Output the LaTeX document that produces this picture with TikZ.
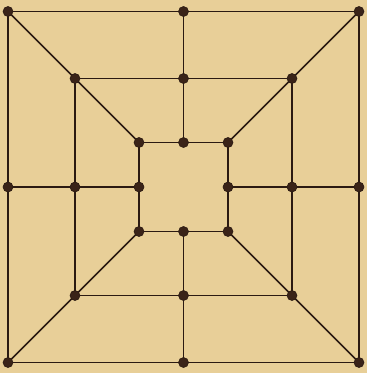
\documentclass[tikz,border=0pt]{standalone}
\usepackage{tikz}
\usetikzlibrary{calc}
\definecolor{boardbg}{HTML}{E8CF98}
\definecolor{boardline}{HTML}{2B1A12}
\definecolor{pegbrown}{HTML}{3A2318}
\begin{document}
\begin{tikzpicture}[
 x=1pt, y=-1pt,
 line/.style={draw=boardline,line width=1.7pt,line cap=round},
 peg/.style={circle,fill=pegbrown,draw=boardline,line width=0.6pt,inner sep=0pt,minimum size=10pt}
]
\fill[boardbg] (0,0) rectangle (367,373);
\useasboundingbox (0,0) rectangle (367,373);
\coordinate (c) at (183.5,187);
% the three squares: corners and midpoints
\foreach \sq/\h in {outer/175.5,middle/108.5,inner/44.5} {
 \coordinate (\sq-nw) at ($(c)+(-\h,-\h)$);
 \coordinate (\sq-n)  at ($(c)+(0,-\h)$);
 \coordinate (\sq-ne) at ($(c)+(\h,-\h)$);
 \coordinate (\sq-e)  at ($(c)+(\h,0)$);
 \coordinate (\sq-se) at ($(c)+(\h,\h)$);
 \coordinate (\sq-s)  at ($(c)+(0,\h)$);
 \coordinate (\sq-sw) at ($(c)+(-\h,\h)$);
 \coordinate (\sq-w)  at ($(c)+(-\h,0)$);
 \draw[line] (\sq-nw) -- (\sq-ne) -- (\sq-se) -- (\sq-sw) -- cycle;
}
% cross lines and diagonals
\foreach \p in {n,e,s,w,nw,ne,se,sw}
 \draw[line] (outer-\p) -- (inner-\p);
% pegs
\foreach \sq in {outer,middle,inner}
 \foreach \p in {n,e,s,w,nw,ne,se,sw}
  \node[peg] (\sq-\p-peg) at (\sq-\p) {};
\end{tikzpicture}
\end{document}
